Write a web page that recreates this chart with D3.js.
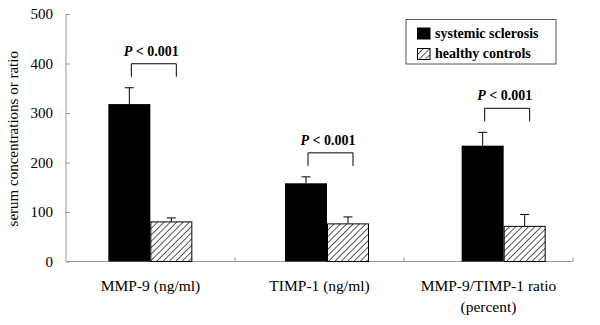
<!DOCTYPE html>
<html>
<head>
<meta charset="utf-8">
<script src="https://cdn.jsdelivr.net/npm/d3@7"></script>
<style>
  body { margin: 0; background: #fff; }
  text { font-family: "Liberation Serif", "Times New Roman", serif; fill: #000; }
</style>
</head>
<body>
<div id="chart"></div>
<script>
// data
let categories = ["MMP-9 (ng/ml)", "TIMP-1 (ng/ml)", "MMP-9/TIMP-1 ratio|(percent)"];
let groups = ["systemic sclerosis", "healthy controls"];
let sscMeans = [318, 158, 234];
let sscErr = [33, 13, 27];
let ctrlMeans = [81, 77, 72];
let ctrlErr = [7, 13, 23];
let pLabels = ["P < 0.001", "P < 0.001", "P < 0.001"];
let yTicks = [0, 100, 200, 300, 400, 500];

let width = 600, height = 325;
let margin = {top: 14, right: 27, bottom: 63.5, left: 66};
let plotW = width - margin.left - margin.right;
let plotH = height - margin.top - margin.bottom;

let svg = d3.select("#chart").append("svg")
    .attr("width", width)
    .attr("height", height);

let defs = svg.append("defs");
let pat = defs.append("pattern")
    .attr("id", "hatch")
    .attr("patternUnits", "userSpaceOnUse")
    .attr("width", 4.5)
    .attr("height", 4.5)
    .attr("patternTransform", "rotate(45)");
pat.append("rect").attr("width", 4.5).attr("height", 4.5).attr("fill", "#fff");
pat.append("line")
    .attr("x1", 0).attr("y1", 0).attr("x2", 0).attr("y2", 4.5)
    .attr("stroke", "#000").attr("stroke-width", 1.3);

let g = svg.append("g")
    .attr("transform", "translate(" + margin.left + "," + margin.top + ")");

let x = d3.scaleBand()
    .domain(categories)
    .range([0, plotW]);

// bars in the original sit slightly right of the category centres
let xBars = d3.scaleBand()
    .domain(categories)
    .range([-4, plotW + 19]);

let y = d3.scaleLinear()
    .domain([0, 500])
    .range([plotH, 0]);

let barW = 42;

// y axis
let yAxis = d3.axisLeft(y).tickValues(yTicks).tickSize(-4).tickPadding(13);
let yg = g.append("g").attr("class", "y axis").call(yAxis);
yg.select(".domain").attr("stroke", "#999").attr("d", "M0,0V" + plotH);
yg.selectAll(".tick line").attr("stroke", "#999");
yg.selectAll("text")
    .style("font-family", "Liberation Serif")
    .style("font-size", "15px")
    .attr("fill", "#000");

// x axis
let xAxis = d3.axisBottom(x).tickSize(0).tickFormat("");
let xg = g.append("g").attr("class", "x axis")
    .attr("transform", "translate(0," + plotH + ")")
    .call(xAxis);
xg.select(".domain").attr("stroke", "#999").attr("d", "M0,0H" + plotW);
xg.selectAll(".tick").remove();
xg.selectAll(".sep")
    .data(categories)
    .enter().append("line")
    .attr("class", "sep")
    .attr("x1", function(d) { return x(d) + x.bandwidth(); })
    .attr("x2", function(d) { return x(d) + x.bandwidth(); })
    .attr("y1", 0).attr("y2", -4)
    .attr("stroke", "#999");

// category labels
let catLabels = g.selectAll(".catLabel")
    .data(categories)
    .enter().append("text")
    .attr("class", "catLabel")
    .attr("text-anchor", "middle")
    .style("font-size", "15.5px")
    .attr("transform", function(d) { return "translate(" + (x(d) + x.bandwidth() / 2) + "," + (plotH + 29.5) + ")"; });
catLabels.each(function(d) {
    let lines = d.split("|");
    let t = d3.select(this);
    lines.forEach(function(l, i) {
        t.append("tspan").attr("x", 0).attr("y", i * 20.5).text(l);
    });
});

// y label
g.append("text")
    .attr("transform", "translate(" + (-48) + "," + (plotH / 2 + 1) + ") rotate(-90)")
    .attr("text-anchor", "middle")
    .style("font-size", "15px")
    .text("serum concentrations or ratio");

let rows = categories.map(function(c, i) {
    return {cat: c, ssc: sscMeans[i], sscE: sscErr[i], ctrl: ctrlMeans[i], ctrlE: ctrlErr[i], p: pLabels[i]};
});

function cx(d) { return xBars(d.cat) + xBars.bandwidth() / 2; }

// error bars (drawn first so the bar covers the lower part)
function errBar(sel, valKey, errKey, offset) {
    sel.append("line")
        .attr("x1", function(d) { return cx(d) + offset; })
        .attr("x2", function(d) { return cx(d) + offset; })
        .attr("y1", function(d) { return y(d[valKey]); })
        .attr("y2", function(d) { return y(d[valKey] + d[errKey]); })
        .attr("stroke", "#000").attr("stroke-width", 1);
    sel.append("line")
        .attr("x1", function(d) { return cx(d) + offset - 4.5; })
        .attr("x2", function(d) { return cx(d) + offset + 4.5; })
        .attr("y1", function(d) { return y(d[valKey] + d[errKey]); })
        .attr("y2", function(d) { return y(d[valKey] + d[errKey]); })
        .attr("stroke", "#000").attr("stroke-width", 1);
}

let grp = g.selectAll(".grp")
    .data(rows)
    .enter().append("g")
    .attr("class", "grp");

errBar(grp, "ssc", "sscE", -barW / 2);
errBar(grp, "ctrl", "ctrlE", barW / 2);

grp.append("rect")
    .attr("x", function(d) { return cx(d) - barW; })
    .attr("y", function(d) { return y(d.ssc); })
    .attr("width", barW)
    .attr("height", function(d) { return plotH - y(d.ssc); })
    .attr("fill", "#000");

grp.append("rect")
    .attr("x", function(d) { return cx(d) + 0.5; })
    .attr("y", function(d) { return y(d.ctrl) + 0.5; })
    .attr("width", barW - 1)
    .attr("height", function(d) { return plotH - y(d.ctrl) - 0.5; })
    .attr("fill", "url(#hatch)")
    .attr("stroke", "#000")
    .attr("stroke-width", 1);

// significance brackets
function bracketTop(d) {
    return Math.min(y(d.ssc + d.sscE), y(d.ctrl + d.ctrlE)) - 11;
}
grp.append("path")
    .attr("d", function(d) {
        let x1 = cx(d) - barW / 2 + 2, x2 = cx(d) + barW / 2 + 5;
        let yb = bracketTop(d), yt = yb - 13;
        return "M" + x1 + "," + yb + "V" + yt + "H" + x2 + "V" + yb;
    })
    .attr("fill", "none")
    .attr("stroke", "#000")
    .attr("stroke-width", 1);

let pText = grp.append("text")
    .attr("x", function(d) { return cx(d) + 1; })
    .attr("y", function(d) { return bracketTop(d) - 21; })
    .attr("text-anchor", "middle")
    .style("font-size", "14px")
    .style("font-weight", "bold");
pText.append("tspan").style("font-style", "italic").text(function(d) { return d.p.split(" ")[0]; });
pText.append("tspan").text(function(d) { return " " + d.p.split(" ").slice(1).join(" "); });

// legend
let legend = svg.append("g").attr("transform", "translate(406,19.5)");
legend.append("rect")
    .attr("width", 150).attr("height", 44.5)
    .attr("fill", "#fff").attr("stroke", "#555").attr("stroke-width", 1);
let li = legend.selectAll(".li")
    .data(groups)
    .enter().append("g")
    .attr("transform", function(d, i) { return "translate(11," + (8 + i * 20.5) + ")"; });
li.append("rect")
    .attr("x", function(d, i) { return i ? 0.5 : 0; })
    .attr("y", function(d, i) { return i ? 0.5 : 0; })
    .attr("width", function(d, i) { return i ? 12.5 : 13.5; })
    .attr("height", function(d, i) { return i ? 11 : 12; })
    .attr("fill", function(d, i) { return i ? "url(#hatch)" : "#000"; })
    .attr("stroke", function(d, i) { return i ? "#000" : "none"; });
li.append("text")
    .attr("x", 18)
    .attr("y", 10)
    .style("font-size", "14px")
    .style("font-weight", "bold")
    .text(function(d) { return d; });
</script>
</body>
</html>
